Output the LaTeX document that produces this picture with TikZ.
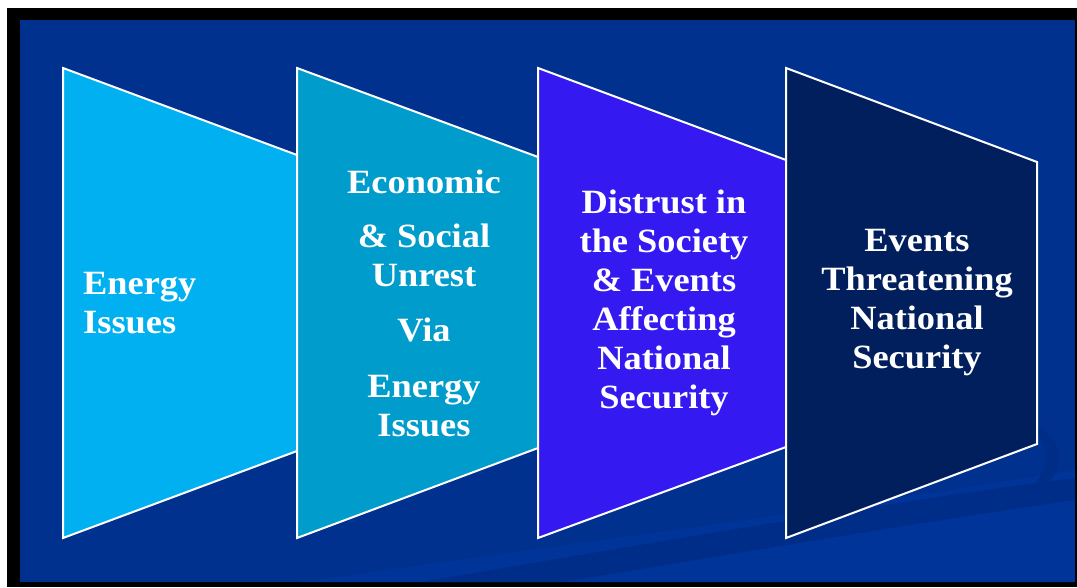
\documentclass[tikz,border=0pt]{standalone}
\usepackage{fontspec}
\setmainfont{Liberation Serif}[FakeStretch=1.07]
\definecolor{bgblue}{RGB}{0,49,143}
\definecolor{bgdark}{RGB}{0,45,136}
\definecolor{bglight}{RGB}{0,52,152}
\definecolor{tone}{RGB}{0,176,240}
\definecolor{ttwo}{RGB}{0,156,204}
\definecolor{tthree}{RGB}{52,26,240}
\definecolor{tfour}{RGB}{0,31,92}
\tikzset{
  trap/.style={draw=white, line width=2pt, line join=miter},
  lbl/.style={text=white, font=\fontsize{34}{39}\selectfont\bfseries, inner sep=0pt}
}
\begin{document}
\begin{tikzpicture}[x=1pt,y=-1pt]
\useasboundingbox (0,0) rectangle (1077,587);
\fill[white] (0,0) rectangle (1077,587);
\fill[black] (7,8) rectangle (1077,587);
\fill[bgblue] (20,20) rectangle (1075,582);
% subtle background swooshes
\fill[bglight] (300,582) .. controls (600,540) and (900,500) .. (1075,470) -- (1075,582) -- cycle;
\fill[bgdark] (420,582) .. controls (700,535) and (900,500) .. (1075,478) -- (1075,500) .. controls (900,525) and (700,560) .. (560,582) -- cycle;
\fill[bgdark] (1035,425) .. controls (1065,440) and (1068,470) .. (1040,490) -- (1030,490) .. controls (1050,470) and (1050,445) .. (1035,432) -- cycle;
% trapezoids
\draw[trap, fill=tone]   (63,68)  -- (297,155) -- (297,451) -- (63,538)  -- cycle;
\draw[trap, fill=ttwo]   (297,68) -- (538,157) -- (538,448) -- (297,538) -- cycle;
\draw[trap, fill=tthree] (538,68) -- (786,160) -- (786,447) -- (538,538) -- cycle;
\draw[trap, fill=tfour]  (786,68) -- (1037,162) -- (1037,444) -- (786,538) -- cycle;
% labels
\node[lbl, anchor=west, align=left] (t1) at (83,303) {Energy\\Issues};
\node[lbl, align=center] (t2) at (424,303) {Economic\\[15pt]\& Social\\Unrest\\[16pt]Via\\[17pt]Energy\\Issues};
\node[lbl, align=center] (t3) at (664,303) {Distrust in\\the Society\\\& Events\\Affecting\\National\\Security};
\node[lbl, align=center] (t4) at (917,303) {Events\\Threatening\\National\\Security};
\end{tikzpicture}
\end{document}
